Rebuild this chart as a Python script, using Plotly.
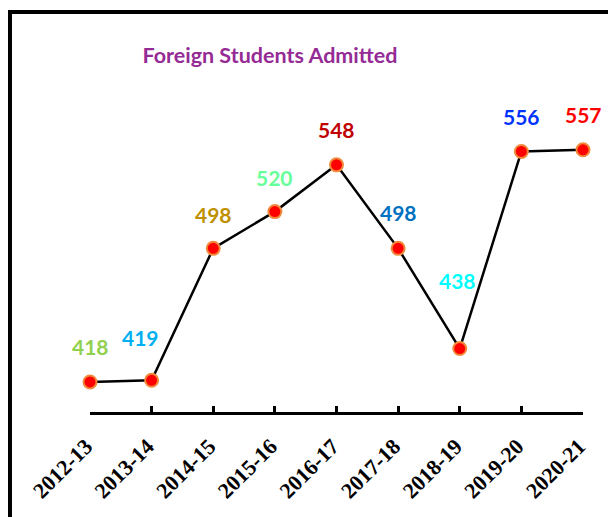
import plotly.graph_objects as go

years = ["2012-13", "2013-14", "2014-15", "2015-16", "2016-17",
         "2017-18", "2018-19", "2019-20", "2020-21"]
students = [418, 419, 498, 520, 548, 498, 438, 556, 557]
label_colors = ["#92D050", "#00B0F0", "#BF9000", "#66FF99", "#C00000",
                "#0070C0", "#00FFFF", "#0033FF", "#FF0000"]
label_xshift = [0, -11, 0, 0, 0, 0, -2, 0, 0]
label_yshift = [35, 43, 34, 34, 35, 36, 68, 35, 35]

fig = go.Figure()
fig.add_trace(go.Scatter(
    x=list(range(len(years))), y=students, mode="lines+markers",
    line=dict(color="black", width=2.5),
    marker=dict(size=13, color="#FF0000", line=dict(color="#F08A3C", width=2)),
    hoverinfo="skip", showlegend=False, cliponaxis=False,
))

for i, (v, c) in enumerate(zip(students, label_colors)):
    fig.add_annotation(
        x=i, y=v, text=f"<b>{v}</b>", showarrow=False,
        xshift=label_xshift[i], yshift=label_yshift[i],
        font=dict(family="Lato", size=21, color=c),
    )

fig.add_shape(type="rect", xref="paper", yref="paper",
              x0=-0.1623, x1=1.3, y0=-0.6, y1=1.1976,
              line=dict(color="black", width=4), layer="above")

W, H = 608, 509
fig.update_layout(
    width=W, height=H,
    margin=dict(l=82, r=33, t=70, b=105),
    paper_bgcolor="white", plot_bgcolor="white",
    title=dict(text="<b>Foreign Students Admitted</b>", x=262/W, xanchor="center",
               y=1 - 47/H, yanchor="middle",
               font=dict(family="Lato", size=21.5, color="#952B95")),
    xaxis=dict(
        range=[0, 8], tickmode="array", tickvals=list(range(len(years))),
        ticktext=[f"<b>{y}</b>" for y in years], tickangle=-45,
        tickfont=dict(family="Liberation Serif", size=22, color="black"),
        ticks="inside", ticklen=6, tickwidth=2.5, tickcolor="black",
        showline=True, linecolor="black", linewidth=2.5,
        showgrid=False, zeroline=False, ticklabelstandoff=10,
        ticklabelshift=-4, automargin=False,
    ),
    yaxis=dict(range=[400, 600], visible=False, showgrid=False, zeroline=False),
)

fig.write_html("out.html")
